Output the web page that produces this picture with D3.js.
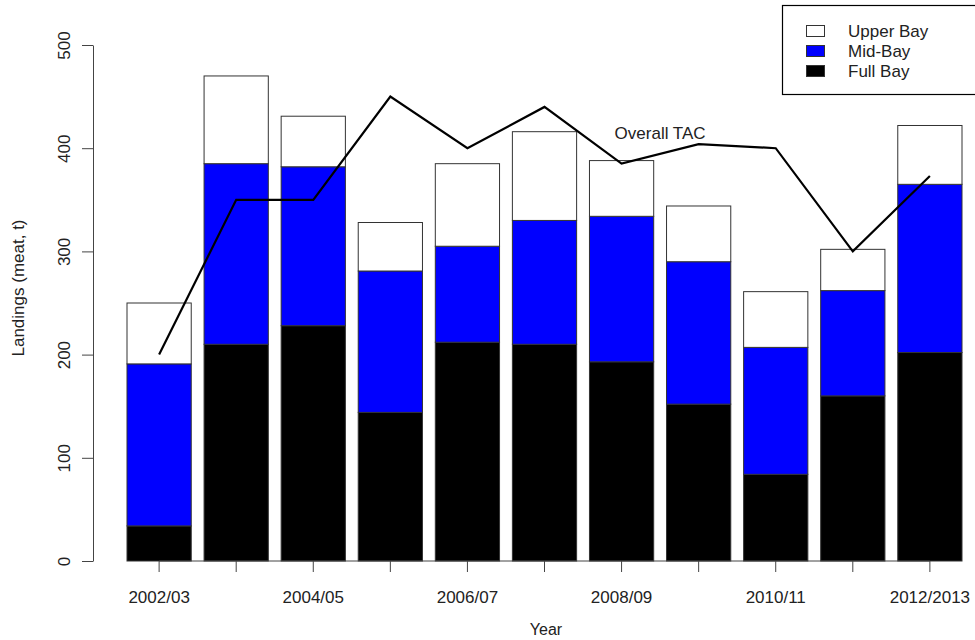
<!DOCTYPE html>
<html>
<head>
<meta charset="utf-8">
<script src="https://cdn.jsdelivr.net/npm/d3@7"></script>
<style>
  body { margin: 0; background: #fff; }
  svg { display: block; font-family: "Liberation Sans", Arial, sans-serif; }
  text { fill: #222; }
</style>
</head>
<body>
<svg width="975" height="640"></svg>
<script>
// ** DATA ** //
const years = ["2002/03", "2003/04", "2004/05", "2005/06", "2006/07", "2007/08",
  "2008/09", "2009/10", "2010/11", "2011/12", "2012/2013"];
const fullBay = [34, 210, 228, 144, 212, 210, 193, 152, 84, 160, 202];
const midBay = [157, 175, 154, 137, 93, 120, 141, 138, 123, 102, 163];
const upperBay = [59, 85, 49, 47, 80, 86, 54, 54, 54, 40, 57];
const overallTAC = [200, 350, 350, 450, 400, 440, 385, 404, 400, 300, 373];
const yTicks = [0, 100, 200, 300, 400, 500];
const legendItems = ["Upper Bay", "Mid-Bay", "Full Bay"];

const svg = d3.select("svg");

// ** SCALES ** //
const x = d3.scaleBand()
  .domain(years)
  .range([127, 962])
  .paddingInner(0.2 / 1.2)
  .paddingOuter(0);

const y = d3.scaleLinear().domain([0, 500]).range([561, 45]);

const series = [
  { key: "Full Bay", values: fullBay, fill: "#000000" },
  { key: "Mid-Bay", values: midBay, fill: "#0000ff" },
  { key: "Upper Bay", values: upperBay, fill: "#ffffff" }
];

// stack the three regions per year
const rows = years.map((yr, i) => ({
  year: yr,
  "Full Bay": fullBay[i],
  "Mid-Bay": midBay[i],
  "Upper Bay": upperBay[i]
}));
const stacked = d3.stack().keys(series.map(s => s.key))(rows);

// ** BARS ** //
svg.append("g")
  .selectAll("g")
  .data(stacked)
  .join("g")
  .attr("fill", d => series.find(s => s.key === d.key).fill)
  .selectAll("rect")
  .data(d => d)
  .join("rect")
  .attr("x", d => x(d.data.year))
  .attr("y", d => y(d[1]))
  .attr("width", x.bandwidth())
  .attr("height", d => y(d[0]) - y(d[1]))
  .attr("stroke", "#333")
  .attr("stroke-width", 1);

// ** AXES ** //
const yAxis = svg.append("g")
  .attr("transform", "translate(93,0)")
  .call(d3.axisLeft(y).tickValues(yTicks).tickSize(11).tickSizeOuter(0));
yAxis.selectAll("text")
  .attr("x", null)
  .attr("dy", null)
  .attr("text-anchor", "middle")
  .attr("transform", "translate(-23,0) rotate(-90)")
  .style("font-size", "17px")
  .style("fill", "#222");

const xAxis = svg.append("g")
  .attr("transform", "translate(0,561)")
  .call(d3.axisBottom(x).tickSize(11).tickSizeOuter(0)
    .tickFormat((d, i) => (i % 2 === 0 ? d : "")));
xAxis.select(".domain")
  .attr("d", `M${x(years[0]) + x.bandwidth() / 2},0H${x(years[years.length - 1]) + x.bandwidth() / 2}`);
xAxis.selectAll("text")
  .attr("y", 42)
  .attr("dy", null)
  .style("font-size", "17px")
  .style("fill", "#222");

[yAxis, xAxis].forEach(a => {
  a.attr("font-family", null).attr("font-size", null);
  a.selectAll("line, path").attr("stroke", "#444");
});

// axis titles
svg.append("text")
  .attr("x", 546)
  .attr("y", 635)
  .attr("text-anchor", "middle")
  .style("font-size", "16px")
  .text("Year");

svg.append("text")
  .attr("transform", "translate(24,288) rotate(-90)")
  .attr("text-anchor", "middle")
  .style("font-size", "17px")
  .text("Landings (meat, t)");

// ** TAC LINE ** //
const line = d3.line()
  .x((d, i) => x(years[i]) + x.bandwidth() / 2)
  .y(d => y(d));

svg.append("path")
  .datum(overallTAC)
  .attr("d", line)
  .attr("fill", "none")
  .attr("stroke", "#000")
  .attr("stroke-width", 2.2)
  .attr("stroke-linejoin", "miter");

svg.append("text")
  .attr("x", (x(years[6]) + x(years[7])) / 2 + x.bandwidth() / 2)
  .attr("y", y(415))
  .attr("dy", "0.35em")
  .attr("text-anchor", "middle")
  .style("font-size", "17px")
  .text("Overall TAC");

// ** LEGEND ** //
const legend = svg.append("g");
legend.append("rect")
  .attr("x", 782.5)
  .attr("y", 5.5)
  .attr("width", 220)
  .attr("height", 89)
  .attr("fill", "#fff")
  .attr("stroke", "#000")
  .attr("stroke-width", 1.2);

const legendRow = legend.selectAll("g.item")
  .data(legendItems)
  .join("g")
  .attr("class", "item")
  .attr("transform", (d, i) => `translate(0,${31 + i * 20})`);

legendRow.append("rect")
  .attr("x", 806.5)
  .attr("y", -5.5)
  .attr("width", 18)
  .attr("height", 11)
  .attr("fill", d => series.find(s => s.key === d).fill)
  .attr("stroke", "#333");

legendRow.append("text")
  .attr("x", 848)
  .attr("dy", "0.36em")
  .style("font-size", "17px")
  .text(d => d);
</script>
</body>
</html>
